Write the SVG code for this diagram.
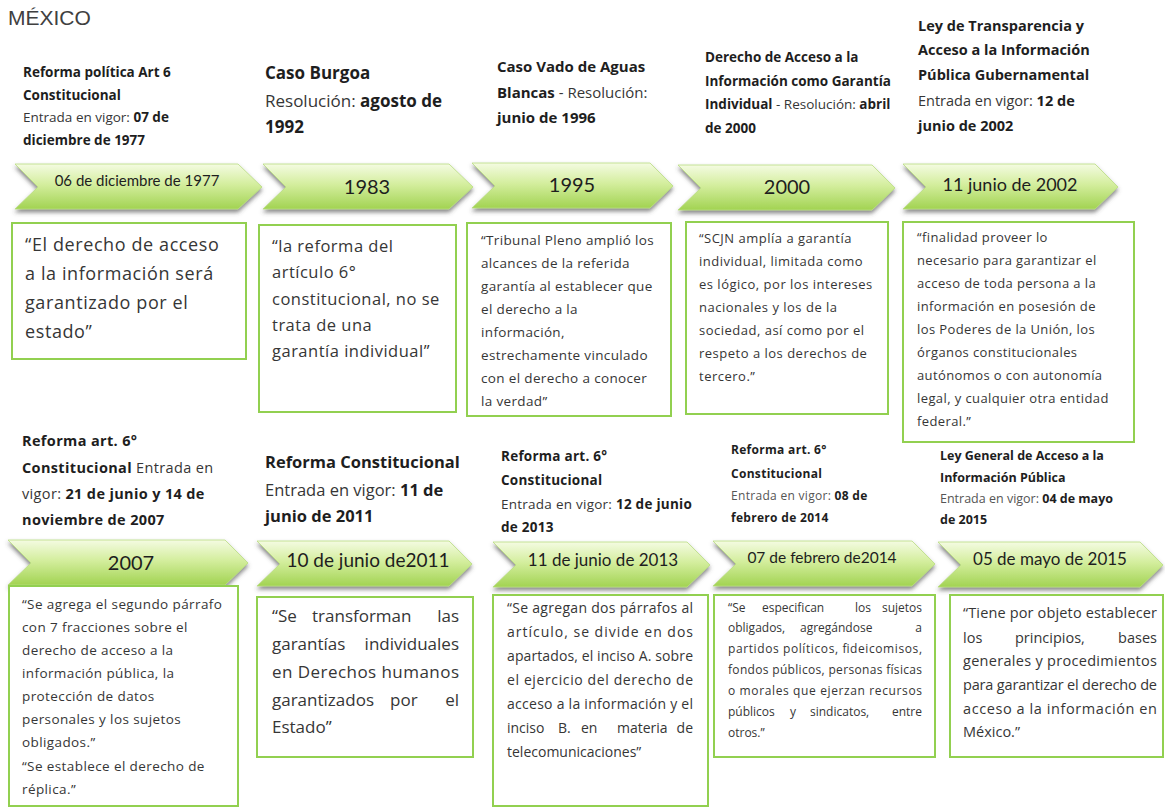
<svg xmlns="http://www.w3.org/2000/svg" width="1165" height="808" viewBox="0 0 1165 808">
<defs>
<linearGradient id="g" x1="0" y1="0" x2="0" y2="1">
<stop offset="0" stop-color="#f4fbe2"/>
<stop offset="0.45" stop-color="#d4ee9e"/>
<stop offset="1" stop-color="#a2d352"/>
</linearGradient>
<filter id="sh" x="-10%" y="-20%" width="120%" height="160%">
<feDropShadow dx="0" dy="3" stdDeviation="2" flood-color="#4a4a4a" flood-opacity="0.65"/>
</filter>
<style>
.t{font-family:"Open Sans","Liberation Sans",sans-serif;fill:#363636}
.b{font-weight:700;fill:#1e1e1e}
.box{fill:#fff;stroke:#92d050;stroke-width:2}
.chev{fill:url(#g);stroke:#b9dd80;stroke-width:0.8;filter:url(#sh)}
.ct{font-family:Lato,"Liberation Sans",sans-serif;fill:#1e1e1e;text-anchor:middle}
.e{text-anchor:end}
.g{fill:#555}
</style>
</defs>
<rect width="1165" height="808" fill="#fff"/>
<text x="8" y="25" font-family="Liberation Sans, Arial, sans-serif" font-size="21" fill="#404040">MÉXICO</text>

<!-- TOP ROW -->
<g id="n1977">
<g font-size="13.5">
<text x="23" y="77" class="t b">Reforma política Art 6</text>
<text x="23" y="100" class="t b">Constitucional</text>
<text x="23" y="122" class="t">Entrada en vigor: <tspan class="b">07 de</tspan></text>
<text x="23" y="145" class="t b">diciembre de 1977</text>
</g>
<polygon class="chev" points="15,164 238,164 262,187 238,209 15,209 38,187"/>
<text x="137" y="186" class="ct" font-size="15">06 de diciembre de 1977</text>
<rect class="box" x="12" y="223" width="234" height="136"/>
<g font-size="18" letter-spacing="0.6">
<text x="25" y="251" class="t">“El derecho de acceso</text>
<text x="25" y="280" class="t">a la información será</text>
<text x="25" y="309" class="t">garantizado por el</text>
<text x="25" y="338" class="t">estado”</text>
</g>
</g>

<g id="n1983">
<g font-size="17">
<text x="265" y="79" class="t b">Caso Burgoa</text>
<text x="265" y="107" class="t">Resolución: <tspan class="b">agosto de</tspan></text>
<text x="265" y="133" class="t b">1992</text>
</g>
<polygon class="chev" points="263,164 449,164 473,187 449,209 263,209 286,187"/>
<text x="367" y="194" class="ct" font-size="20">1983</text>
<rect class="box" x="259" y="225" width="197" height="187"/>
<g font-size="16.5" letter-spacing="0.5">
<text x="272" y="252" class="t">“la reforma del</text>
<text x="272" y="278" class="t">artículo 6°</text>
<text x="272" y="305" class="t">constitucional, no se</text>
<text x="272" y="331" class="t">trata de una</text>
<text x="272" y="357" class="t">garantía individual”</text>
</g>
</g>

<g id="n1995">
<g font-size="15">
<text x="497" y="72" class="t b">Caso Vado de Aguas</text>
<text x="497" y="98" class="t"><tspan class="b">Blancas</tspan> - Resolución:</text>
<text x="497" y="123" class="t b">junio de 1996</text>
</g>
<polygon class="chev" points="472,163 650,163 673,186 650,208 472,208 495,186"/>
<text x="572" y="192" class="ct" font-size="20">1995</text>
<rect class="box" x="467" y="223" width="204" height="193"/>
<g font-size="13.5" letter-spacing="0.35">
<text x="481" y="245" class="t">“Tribunal Pleno amplió los</text>
<text x="481" y="268" class="t">alcances de la referida</text>
<text x="481" y="291" class="t">garantía al establecer que</text>
<text x="481" y="314" class="t">el derecho a la</text>
<text x="481" y="337" class="t">información,</text>
<text x="481" y="360" class="t">estrechamente vinculado</text>
<text x="481" y="383" class="t">con el derecho a conocer</text>
<text x="481" y="406" class="t">la verdad”</text>
</g>
</g>

<g id="n2000">
<g font-size="13.5">
<text x="705" y="62" class="t b">Derecho de Acceso a la</text>
<text x="705" y="86" class="t b">Información como Garantía</text>
<text x="705" y="109" class="t"><tspan class="b">Individual</tspan> - Resolución: <tspan class="b">abril</tspan></text>
<text x="705" y="133" class="t b">de 2000</text>
</g>
<polygon class="chev" points="678,165 872,165 895,188 872,210 678,210 701,188"/>
<text x="787" y="194" class="ct" font-size="20">2000</text>
<rect class="box" x="686" y="222" width="202" height="192"/>
<g font-size="13" letter-spacing="0.5">
<text x="699" y="243" class="t">“SCJN amplía a garantía</text>
<text x="699" y="266" class="t">individual, limitada como</text>
<text x="699" y="289" class="t">es lógico, por los intereses</text>
<text x="699" y="312" class="t">nacionales y los de la</text>
<text x="699" y="335" class="t">sociedad, así como por el</text>
<text x="699" y="358" class="t">respeto a los derechos de</text>
<text x="699" y="381" class="t">tercero.”</text>
</g>
</g>

<g id="n2002">
<g font-size="14.5">
<text x="918" y="31" class="t b">Ley de Transparencia y</text>
<text x="918" y="55" class="t b">Acceso a la Información</text>
<text x="918" y="80" class="t b">Pública Gubernamental</text>
<text x="918" y="106" class="t">Entrada en vigor: <tspan class="b">12 de</tspan></text>
<text x="918" y="131" class="t b">junio de 2002</text>
</g>
<polygon class="chev" points="903,164 1095,164 1118,187 1095,209 903,209 926,187"/>
<text x="1010" y="191" class="ct" font-size="18">11 junio de 2002</text>
<rect class="box" x="903" y="222" width="231" height="220"/>
<g font-size="13" letter-spacing="0.4">
<text x="917" y="242" class="t">“finalidad proveer lo</text>
<text x="917" y="265" class="t">necesario para garantizar el</text>
<text x="917" y="288" class="t">acceso de toda persona a la</text>
<text x="917" y="311" class="t">información en posesión de</text>
<text x="917" y="334" class="t">los Poderes de la Unión, los</text>
<text x="917" y="357" class="t">órganos constitucionales</text>
<text x="917" y="380" class="t">autónomos o con autonomía</text>
<text x="917" y="403" class="t">legal, y cualquier otra entidad</text>
<text x="917" y="426" class="t">federal.”</text>
</g>
</g>

<!-- BOTTOM ROW -->
<g id="n2007">
<g font-size="14.5" letter-spacing="0.35">
<text x="22" y="446" class="t b">Reforma art. 6°</text>
<text x="22" y="473" class="t"><tspan class="b">Constitucional</tspan> Entrada en</text>
<text x="22" y="499" class="t">vigor: <tspan class="b">21 de junio y 14 de</tspan></text>
<text x="22" y="525" class="t b">noviembre de 2007</text>
</g>
<polygon class="chev" points="8,540 225,540 248,563 225,585 8,585 31,563"/>
<text x="131" y="570" class="ct" font-size="20">2007</text>
<rect class="box" x="9" y="586" width="229" height="220"/>
<g font-size="13.5" letter-spacing="0.4">
<text x="22" y="609" class="t">“Se agrega el segundo párrafo</text>
<text x="22" y="632" class="t">con 7 fracciones sobre el</text>
<text x="22" y="655" class="t">derecho de acceso a la</text>
<text x="22" y="678" class="t">información pública, la</text>
<text x="22" y="701" class="t">protección de datos</text>
<text x="22" y="724" class="t">personales y los sujetos</text>
<text x="22" y="747" class="t">obligados.”</text>
<text x="22" y="771" class="t">“Se establece el derecho de</text>
<text x="22" y="794" class="t">réplica.”</text>
</g>
</g>

<g id="n2011">
<g font-size="16.5">
<text x="265" y="468" class="t b">Reforma Constitucional</text>
<text x="265" y="496" class="t">Entrada en vigor: <tspan class="b">11 de</tspan></text>
<text x="265" y="522" class="t b">junio de 2011</text>
</g>
<polygon class="chev" points="257,541 449,541 472,564 449,586 257,586 280,564"/>
<text x="368" y="567" class="ct" font-size="19">10 de junio de2011</text>
<rect class="box" x="257" y="597" width="216" height="160"/>
<g font-size="17">
<text x="272" y="622" class="t">“Se</text>
<text x="312" y="622" class="t">transforman</text>
<text x="459" y="622" class="t e">las</text>
<text x="272" y="650" class="t">garantías</text>
<text x="459" y="650" class="t e">individuales</text>
<text x="272" y="678" class="t" textLength="187" lengthAdjust="spacing">en Derechos humanos</text>
<text x="272" y="706" class="t">garantizados</text>
<text x="390" y="706" class="t">por</text>
<text x="459" y="706" class="t e">el</text>
<text x="272" y="733" class="t">Estado”</text>
</g>
</g>

<g id="n2013">
<g font-size="13.5" letter-spacing="0.25">
<text x="501" y="461" class="t b">Reforma art. 6°</text>
<text x="501" y="485" class="t b">Constitucional</text>
<text x="501" y="509" class="t">Entrada en vigor: <tspan class="b">12 de junio</tspan></text>
<text x="501" y="532" class="t b">de 2013</text>
</g>
<polygon class="chev" points="493,542 687,542 710,565 687,587 493,587 516,565"/>
<text x="603" y="566" class="ct" font-size="17">11 de junio de 2013</text>
<rect class="box" x="493" y="595" width="215" height="211"/>
<g font-size="14">
<text x="507" y="613" class="t" textLength="186" lengthAdjust="spacing">“Se agregan dos párrafos al</text>
<text x="507" y="637" class="t" textLength="186" lengthAdjust="spacing">artículo, se divide en dos</text>
<text x="507" y="661" class="t" textLength="186" lengthAdjust="spacing">apartados, el inciso A. sobre</text>
<text x="507" y="685" class="t" textLength="186" lengthAdjust="spacing">el ejercicio del derecho de</text>
<text x="507" y="709" class="t" textLength="186" lengthAdjust="spacing">acceso a la información y el</text>
<text x="507" y="733" class="t">inciso</text>
<text x="558" y="733" class="t">B.</text>
<text x="581" y="733" class="t">en</text>
<text x="617" y="733" class="t">materia</text>
<text x="693" y="733" class="t e">de</text>
<text x="507" y="757" class="t">telecomunicaciones”</text>
</g>
</g>

<g id="n2014">
<g font-size="12" letter-spacing="0.3">
<text x="731" y="454" class="t b">Reforma art. 6°</text>
<text x="731" y="478" class="t b">Constitucional</text>
<text x="731" y="500" class="t g">Entrada en vigor: <tspan class="b">08 de</tspan></text>
<text x="731" y="522" class="t b">febrero de 2014</text>
</g>
<polygon class="chev" points="713,541 912,541 935,564 912,586 713,586 736,564"/>
<text x="822" y="563" class="ct" font-size="15.5">07 de febrero de2014</text>
<rect class="box" x="714" y="595" width="221" height="162"/>
<g font-size="12">
<text x="728" y="612" class="t">“Se</text>
<text x="762" y="612" class="t">especifican</text>
<text x="855" y="612" class="t">los</text>
<text x="922" y="612" class="t e">sujetos</text>
<text x="728" y="632" class="t">obligados,</text>
<text x="800" y="632" class="t">agregándose</text>
<text x="922" y="632" class="t e">a</text>
<text x="728" y="653" class="t" textLength="194" lengthAdjust="spacing">partidos políticos, fideicomisos,</text>
<text x="728" y="674" class="t" textLength="194" lengthAdjust="spacing">fondos públicos, personas físicas</text>
<text x="728" y="695" class="t" textLength="194" lengthAdjust="spacing">o morales que ejerzan recursos</text>
<text x="728" y="716" class="t">públicos</text>
<text x="790" y="716" class="t">y</text>
<text x="810" y="716" class="t">sindicatos,</text>
<text x="922" y="716" class="t e">entre</text>
<text x="728" y="737" class="t">otros.”</text>
</g>
</g>

<g id="n2015">
<g font-size="12.5">
<text x="940" y="460" class="t b">Ley General de Acceso a la</text>
<text x="940" y="482" class="t b">Información Pública</text>
<text x="940" y="503" class="t g">Entrada en vigor: <tspan class="b">04 de mayo</tspan></text>
<text x="940" y="524" class="t b">de 2015</text>
</g>
<polygon class="chev" points="938,542 1140,542 1163,565 1140,587 938,587 961,565"/>
<text x="1050" y="565" class="ct" font-size="17">05 de mayo de 2015</text>
<rect class="box" x="950" y="595" width="213" height="162"/>
<g font-size="14.5">
<text x="963" y="618" class="t" textLength="194" lengthAdjust="spacing">“Tiene por objeto establecer</text>
<text x="963" y="643" class="t">los</text>
<text x="1015" y="643" class="t">principios,</text>
<text x="1157" y="643" class="t e">bases</text>
<text x="963" y="666" class="t" textLength="194" lengthAdjust="spacing">generales y procedimientos</text>
<text x="963" y="690" class="t" textLength="194" lengthAdjust="spacing">para garantizar el derecho de</text>
<text x="963" y="714" class="t" textLength="194" lengthAdjust="spacing">acceso a la información en</text>
<text x="963" y="737" class="t">México.”</text>
</g>
</g>
</svg>
